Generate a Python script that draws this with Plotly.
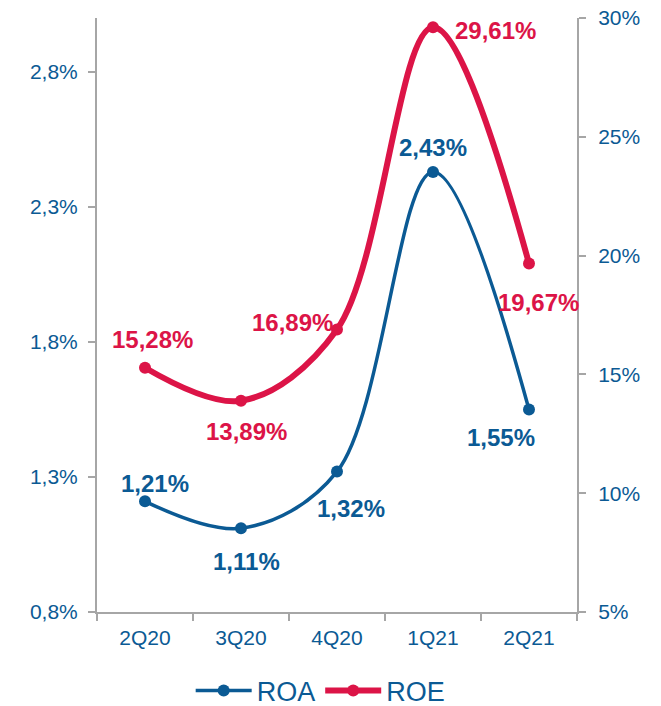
import plotly.graph_objects as go

quarters = ["2Q20", "3Q20", "4Q20", "1Q21", "2Q21"]
roa = [1.21, 1.11, 1.32, 2.43, 1.55]
roe = [15.28, 13.89, 16.89, 29.61, 19.67]

left_ticks = [0.8, 1.3, 1.8, 2.3, 2.8]
right_ticks = [5, 10, 15, 20, 25, 30]

BLUE = "#0b5a94"
RED = "#dc1447"
AXIS = "#a6a6a6"
FONT = "Liberation Sans, Arial, sans-serif"


def fmt(v, dec):
    return f"{v:.{dec}f}".replace(".", ",") + "%"


fig = go.Figure()
fig.add_trace(go.Scatter(
    x=quarters, y=roa, name="ROA", mode="lines+markers",
    line=dict(color=BLUE, width=3.5, shape="spline", smoothing=1.0),
    marker=dict(size=12, color=BLUE), yaxis="y",
))
fig.add_trace(go.Scatter(
    x=quarters, y=roe, name="ROE", mode="lines+markers",
    line=dict(color=RED, width=6, shape="spline", smoothing=1.0),
    marker=dict(size=12, color=RED), yaxis="y2",
))

# value labels: (pixel shift x, pixel shift y)
roa_shift = [(10, 18), (5, -33), (14, -37), (0, 24), (-28, -28)]
roe_shift = [(7, 28), (5, -31), (-45, 7), (62, -3), (9, -39)]
for q, v, (dx, dy) in zip(quarters, roa, roa_shift):
    fig.add_annotation(x=q, y=v, yref="y", text=f"<b>{fmt(v, 2)}</b>",
                       showarrow=False, xshift=dx, yshift=dy,
                       font=dict(size=24, color=BLUE, family=FONT))
for q, v, (dx, dy) in zip(quarters, roe, roe_shift):
    fig.add_annotation(x=q, y=v, yref="y2", text=f"<b>{fmt(v, 2)}</b>",
                       showarrow=False, xshift=dx, yshift=dy,
                       font=dict(size=24, color=RED, family=FONT))

fig.update_layout(
    width=661, height=706,
    margin=dict(l=97, r=84, t=18, b=94, autoexpand=False),
    paper_bgcolor="white", plot_bgcolor="white",
    font=dict(family=FONT, color=BLUE),
    showlegend=True,
    legend=dict(orientation="h", x=0.466, xanchor="center", y=-0.133, yanchor="middle",
                font=dict(size=27, color=BLUE), itemwidth=56),
    xaxis=dict(
        type="category", range=[-0.5, 4.5], tickson="boundaries",
        showline=True, linecolor=AXIS, linewidth=2,
        ticks="outside", ticklen=7, tickcolor=AXIS, tickwidth=2,
        showgrid=False, zeroline=False, ticklabelstandoff=6,
        tickfont=dict(size=21, color=BLUE),
    ),
    yaxis=dict(
        range=[0.8, 3.0], tickvals=left_ticks,
        ticktext=[fmt(v, 1) for v in left_ticks],
        showline=True, linecolor=AXIS, linewidth=2,
        ticks="outside", ticklen=7, tickcolor=AXIS, tickwidth=2,
        showgrid=False, zeroline=False, ticklabelstandoff=6,
        tickfont=dict(size=21, color=BLUE),
    ),
    yaxis2=dict(
        range=[5, 30], tickvals=right_ticks,
        ticktext=[fmt(v, 0) for v in right_ticks],
        overlaying="y", side="right",
        showline=True, linecolor=AXIS, linewidth=2,
        ticks="outside", ticklen=7, tickcolor=AXIS, tickwidth=2,
        showgrid=False, zeroline=False, ticklabelstandoff=8,
        tickfont=dict(size=21, color=BLUE),
    ),
)

fig.write_html("out.html")
